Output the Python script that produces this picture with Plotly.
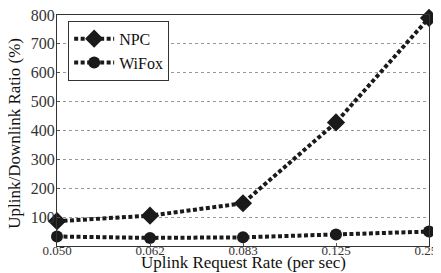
import plotly.graph_objects as go

categories = ["0.050", "0.062", "0.083", "0.125", "0.250"]
npc = [86, 105, 148, 428, 790]
wifox = [33, 28, 30, 40, 50]
y_ticks = [100, 200, 300, 400, 500, 600, 700, 800]

FONT = "'Liberation Serif', 'Times New Roman', serif"
DASH = "4px,2.5px"

fig = go.Figure()
fig.add_trace(go.Scatter(
    x=categories, y=npc, name="NPC", mode="lines+markers",
    line=dict(color="#1a1a1a", width=4, dash=DASH),
    marker=dict(symbol="diamond", size=14, color="#1a1a1a"),
    cliponaxis=False,
))
fig.add_trace(go.Scatter(
    x=categories, y=wifox, name="WiFox", mode="lines+markers",
    line=dict(color="#1a1a1a", width=4, dash=DASH),
    marker=dict(symbol="circle", size=12, color="#1a1a1a"),
    cliponaxis=False,
))

fig.add_annotation(
    text="Uplink Request Rate (per sec)", xref="paper", yref="paper",
    x=0.5, y=-0.12, xanchor="center", yanchor="bottom", showarrow=False,
    font=dict(family=FONT, size=17, color="#111"),
)
fig.add_annotation(
    text="Uplink/Downlink Ratio (%)", xref="paper", yref="paper",
    x=-0.113, y=0.49, xanchor="center", yanchor="middle", showarrow=False,
    textangle=-90,
    font=dict(family=FONT, size=17, color="#111"),
)

# the page body adds an 8px offset; margins compensate for it
fig.update_layout(
    width=441, height=273,
    margin=dict(l=49, r=20, t=7, b=35),
    paper_bgcolor="white", plot_bgcolor="white",
    font=dict(family=FONT, color="#222"),
    showlegend=True,
    legend=dict(
        x=0.03, y=0.975, xanchor="left", yanchor="top",
        bgcolor="white", bordercolor="#333", borderwidth=1,
        font=dict(family=FONT, size=16, color="#111"),
        itemwidth=40, tracegroupgap=0,
    ),
    xaxis=dict(
        type="category", range=[0, 4], automargin=False,
        showline=True, linecolor="#333", linewidth=1, mirror=True,
        ticks="inside", ticklen=3, tickcolor="#555",
        tickfont=dict(family=FONT, size=13, color="#333"),
        ticklabelstandoff=-8, ticklabeloverflow="allow",
        showgrid=False,
    ),
    yaxis=dict(
        range=[0, 800], tickvals=y_ticks, automargin=False,
        showline=True, linecolor="#333", linewidth=1, mirror=True,
        ticks="inside", ticklen=3, tickcolor="#555",
        tickfont=dict(family=FONT, size=16, color="#333"),
        ticklabelstandoff=-2, ticklabeloverflow="allow",
        showgrid=True, gridcolor="#999", griddash="dot", gridwidth=1,
        zeroline=False,
    ),
)

fig.write_html("out.html")
